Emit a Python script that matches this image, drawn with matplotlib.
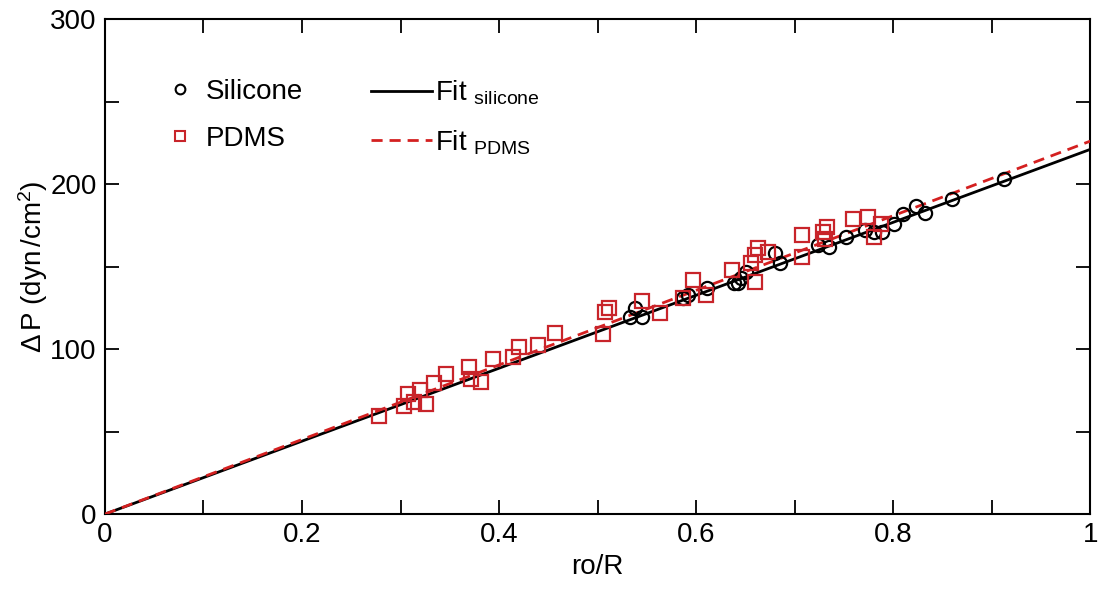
import numpy as np
import matplotlib
matplotlib.use('Agg')
import matplotlib.pyplot as plt
from matplotlib.lines import Line2D

plt.rcParams['font.family'] = ['Liberation Sans', 'DejaVu Sans']
plt.rcParams['mathtext.fontset'] = 'custom'
plt.rcParams['mathtext.rm'] = 'Liberation Sans'
plt.rcParams['mathtext.it'] = 'Liberation Sans'

# silicone tube measurements
sil_x = [0.533, 0.545, 0.538, 0.587, 0.592, 0.611, 0.638, 0.643, 0.646, 0.651,
         0.680, 0.685, 0.724, 0.735, 0.752, 0.771, 0.781, 0.789, 0.801, 0.810,
         0.823, 0.832, 0.860, 0.913]
sil_y = [119.6, 119.6, 124.6, 131.0, 133.0, 136.8, 139.8, 139.8, 143.0, 147.0,
         158.0, 152.0, 163.0, 162.0, 168.0, 172.0, 171.0, 171.0, 176.0, 182.0,
         186.7, 182.6, 190.7, 203.0]

# PDMS tube measurements
pdms_x = [0.278, 0.304, 0.308, 0.314, 0.320, 0.326, 0.334, 0.346, 0.369, 0.372,
          0.382, 0.394, 0.414, 0.420, 0.440, 0.457, 0.505, 0.508, 0.512, 0.545,
          0.563, 0.587, 0.597, 0.610, 0.636, 0.660, 0.656, 0.660, 0.663, 0.673,
          0.707, 0.707, 0.729, 0.733, 0.731, 0.759, 0.774, 0.781, 0.788]
pdms_y = [59.4, 65.5, 72.7, 68.0, 75.0, 67.0, 79.6, 85.0, 88.9, 82.0,
          80.0, 93.7, 95.3, 101.5, 102.4, 110.0, 109.0, 122.6, 125.0, 129.0,
          121.6, 130.7, 141.8, 132.7, 147.9, 140.8, 152.0, 157.0, 161.0, 159.0,
          169.0, 156.0, 171.0, 174.0, 167.0, 179.0, 180.0, 168.0, 176.0]

# linear fits through the origin
slope_sil = 221.0
slope_pdms = 226.0

fig = plt.figure(figsize=(10.99, 5.95), dpi=100)
ax = fig.add_axes([0.0955, 0.136, 0.8965, 0.832])

xf = np.array([0.0, 1.0])
l1, = ax.plot(xf, slope_sil * xf, color='black', lw=2, zorder=3)
l2, = ax.plot(xf, slope_pdms * xf, color='#d42020', lw=2, ls=(0, (4, 2.5)), zorder=3)

ax.plot(sil_x, sil_y, 'o', mfc='none', mec='black', ms=9.5, mew=1.6, zorder=4)
ax.plot(pdms_x, pdms_y, 's', mfc='none', mec='#c8242a', ms=9.5, mew=1.6, zorder=4)

ax.set_xlim(0, 1)
ax.set_ylim(0, 300)
ax.set_xticks(np.arange(0, 1.01, 0.1))
ax.set_xticklabels(['0', '', '0.2', '', '0.4', '', '0.6', '', '0.8', '', '1'])
ax.set_yticks([0, 50, 100, 150, 200, 250, 300])
ax.set_yticklabels(['0', '', '100', '', '200', '', '300'])
ax.tick_params(direction='in', length=10, width=1.3, top=True, right=True,
               labelsize=20, pad=6)
for s in ax.spines.values():
    s.set_linewidth(1.5)

ax.set_xlabel('ro/R', fontsize=20, labelpad=4)
ax.set_ylabel(r'$\Delta\,$P (dyn$\,$/cm$^2$)', fontsize=20, labelpad=0)

h1 = Line2D([], [], ls='none', marker='o', mfc='none', mec='black', ms=7, mew=1.5)
h2 = Line2D([], [], ls='none', marker='s', mfc='none', mec='#c8242a', ms=7, mew=1.5)
leg1 = ax.legend([h1, h2], ['Silicone', 'PDMS'], loc='upper left',
                 bbox_to_anchor=(0.037, 0.93), frameon=False, fontsize=20,
                 handlelength=1.0, handletextpad=0.4, labelspacing=0.75)
ax.add_artist(leg1)
ax.legend([l1, l2], [r'Fit $_{\mathrm{silicone}}$', r'Fit $_{\mathrm{PDMS}}$'],
          loc='upper left', bbox_to_anchor=(0.245, 0.93), frameon=False,
          fontsize=20, handlelength=2.2, handletextpad=0.1, labelspacing=0.75)

fig.savefig('out.png', dpi=100)
